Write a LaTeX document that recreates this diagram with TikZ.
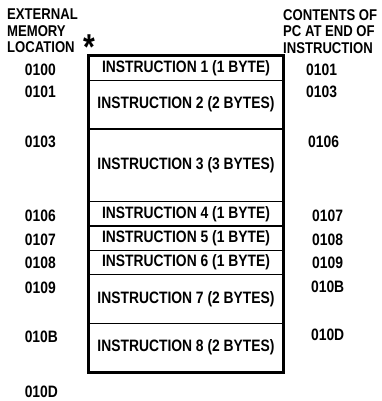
\documentclass[tikz,border=0pt]{standalone}
\usepackage{fontspec}
\setmainfont{Liberation Sans}[FakeStretch=0.84]
\usepackage{tikz}
\usetikzlibrary{calc}

\tikzset{
  instr/.style={draw, line width=1.3pt, minimum width=194pt, inner sep=0pt},
  addr/.style={inner sep=0pt},
  head/.style={inner sep=0pt, align=left, anchor=north west,
    font=\fontsize{15.6}{16.5}\selectfont\bfseries}
}

\begin{document}
\begin{tikzpicture}[x=1pt,y=-1pt,font=\fontsize{16.5}{16.5}\selectfont\bfseries]
  \useasboundingbox (0,0) rectangle (381,401);

  % Kopfzeilen
  \node[head] (hmem) at (7,9) {EXTERNAL\\MEMORY\\LOCATION};
  \node[inner sep=0pt, anchor=base, font=\fontsize{36}{36}\selectfont\bfseries] (star) at (89,60) {*};
  \node[head] (hpc) at (283,9) {CONTENTS OF\\PC AT END OF\\INSTRUCTION};

  % Speicherzellen (ein Byte = 24.3pt)
  \node[instr, minimum height=24.3pt] (i1) at (186,68.15) {INSTRUCTION 1 (1 BYTE)};
  \node[instr, minimum height=48.6pt] (i2) at (186,104.6) {INSTRUCTION 2 (2 BYTES)};
  \node[instr, minimum height=72.9pt] (i3) at (186,165.35) {INSTRUCTION 3 (3 BYTES)};
  \node[instr, minimum height=24.3pt] (i4) at (186,213.95) {INSTRUCTION 4 (1 BYTE)};
  \node[instr, minimum height=24.3pt] (i5) at (186,238.25) {INSTRUCTION 5 (1 BYTE)};
  \node[instr, minimum height=24.3pt] (i6) at (186,262.55) {INSTRUCTION 6 (1 BYTE)};
  \node[instr, minimum height=48.6pt] (i7) at (186,299) {INSTRUCTION 7 (2 BYTES)};
  \node[instr, minimum height=48.6pt] (i8) at (186,347.6) {INSTRUCTION 8 (2 BYTES)};

  % dicker Rahmen
  \draw[line width=2.4pt] (i1.north west) rectangle (i8.south east);

  % Adressen links
  \node[addr] (a1) at ($(i1.north west)+(-48,14)$) {0100};
  \node[addr] (a2) at ($(i2.north west)+(-48,12)$) {0101};
  \node[addr] (a3) at ($(i3.north west)+(-48,14)$) {0103};
  \node[addr] (a4) at ($(i4.north west)+(-48,15)$) {0106};
  \node[addr] (a5) at ($(i5.north west)+(-48,14)$) {0107};
  \node[addr] (a6) at ($(i6.north west)+(-48,13)$) {0108};
  \node[addr] (a7) at ($(i7.north west)+(-48,14)$) {0109};
  \node[addr] (a8) at ($(i8.north west)+(-47,14)$) {010B};
  \node[addr] (a9) at ($(i8.south west)+(-47,19)$) {010D};

  % PC rechts
  \node[addr] (p1) at ($(i1.north east)+(38,14)$) {0101};
  \node[addr] (p2) at ($(i2.north east)+(38,12)$) {0103};
  \node[addr] (p3) at ($(i3.north east)+(40,14)$) {0106};
  \node[addr] (p4) at ($(i4.north east)+(44,15)$) {0107};
  \node[addr] (p5) at ($(i5.north east)+(44,14)$) {0108};
  \node[addr] (p6) at ($(i6.north east)+(44,13)$) {0109};
  \node[addr] (p7) at ($(i7.north east)+(44,13)$) {010B};
  \node[addr] (p8) at ($(i8.north east)+(44,12)$) {010D};
\end{tikzpicture}
\end{document}
